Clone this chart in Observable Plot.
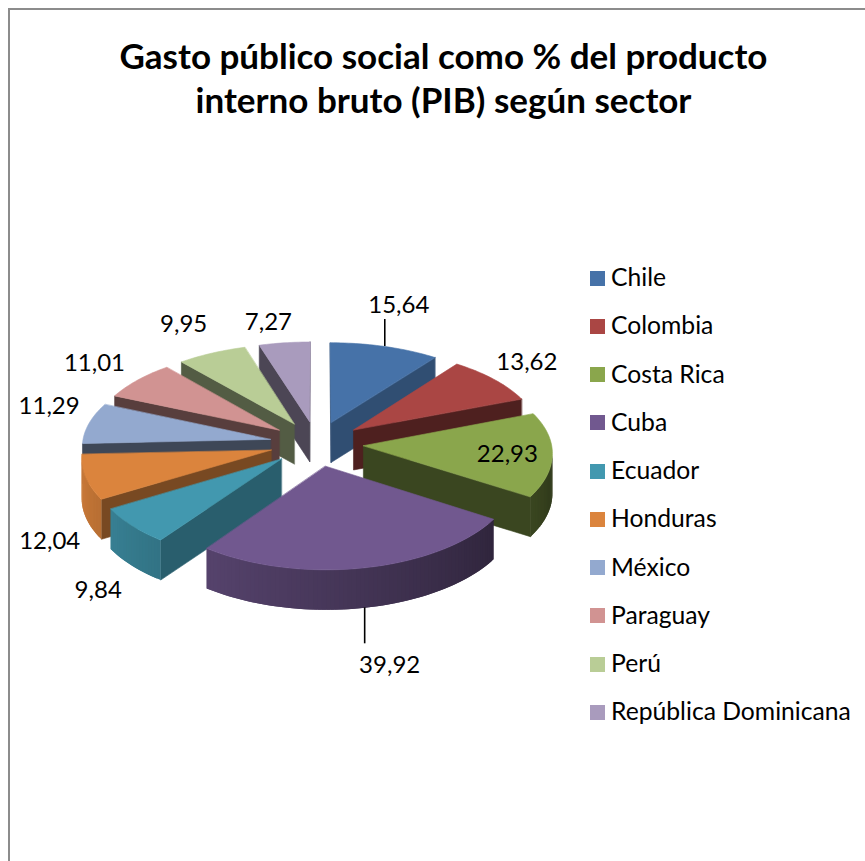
<!DOCTYPE html>
<html lang="es">
<head>
<meta charset="utf-8">
<script src="https://cdn.jsdelivr.net/npm/d3@7"></script>
<script src="https://cdn.jsdelivr.net/npm/@observablehq/plot@0.6"></script>
<style>
  html, body { margin: 0; padding: 0; background: #fff; }
  #page { position: relative; width: 865px; height: 861px; overflow: hidden; font-family: Lato, sans-serif; color: #000; }
  #frame { position: absolute; left: 8px; top: 8px; right: 0; bottom: 0; border-left: 2px solid #8c8c8c; border-top: 2px solid #8c8c8c; }
  #chart { position: absolute; left: 0; top: 0; }
  #chart svg { display: block; background: transparent; }
  #title { position: absolute; left: 21px; width: 845px; top: 33px; margin: 0; text-align: center; font-weight: 700; font-size: 35px; line-height: 44px; }
  .entry { position: absolute; left: 590px; height: 15px; display: flex; align-items: center; white-space: nowrap; font-size: 24.7px; }
  .entry i { display: block; width: 15px; height: 15px; margin-right: 6px; }
  .entry span { position: relative; top: -1.5px; }
</style>
</head>
<body>
<div id="page">
  <div id="frame"></div>
  <div id="chart"></div>
  <h1 id="title">Gasto público social como % del producto<br>interno bruto (PIB) según sector</h1>
  <div id="legend"></div>
</div>
<script>
// Public social spending by country, clockwise from twelve o'clock.
const countries = ["Chile", "Colombia", "Costa Rica", "Cuba", "Ecuador", "Honduras", "México", "Paraguay", "Perú", "República Dominicana"];
const values = [15.64, 13.62, 22.93, 39.92, 9.84, 12.04, 11.29, 11.01, 9.95, 7.27];
const colors = ["#4672a8", "#aa4644", "#8aa64c", "#71588f", "#4298af", "#db843d", "#93a9cf", "#d19392", "#b9cd96", "#a99bbd"];

// Shading of each slice's straight side wall.
const sideShade = [0.68, 0.46, 0.42, 0.42, 0.62, 0.55, 0.42, 0.42, 0.45, 0.45];
// Back-to-front painting order of the exploded slices.
const paintOrder = [0, 1, 2, 9, 8, 7, 6, 5, 4, 3];
// Label offsets in pixels from the middle of each slice's rim.
const labelNudge = [[14, -41], [33, -17], [-45, 0], [25, 98], [-34, 65], [-36, 64], [-40, -17], [-43, -17], [-28, -29], [-16, -21]];

// Tilted-disc projection parameters, in units of the pie's radius.
const explode = 0.25, perspectiveY = 0.088, perspectiveX = 0.07;
const pxPerX = 188, pxPerY = 90.3, originX = 316, originY = 443;
const depth = 40 / pxPerY;
const W = 865, H = 861;

const total = d3.sum(values);
const rad = (deg) => (deg * Math.PI) / 180;
const slices = [];
let running = 0;
values.forEach((v, i) => {
  const start = (running / total) * 360;
  running += v;
  slices.push({ i, start, end: (running / total) * 360, mid: (start + (running / total) * 360) / 2 });
});

// Project a point given in polar form on the pie, pushed out along the slice's own axis.
function project(slice, theta, radius) {
  const X = explode * Math.sin(rad(slice.mid)) + radius * Math.sin(rad(theta));
  const Y = explode * Math.cos(rad(slice.mid)) + radius * Math.cos(rad(theta));
  return { x: X / (1 + perspectiveX * Y), y: Y / (1 + perspectiveY * Y) };
}

const shade = (hex, f) => {
  const c = d3.rgb(hex);
  return d3.rgb(c.r * f, c.g * f, c.b * f).formatHex();
};
// Rim walls get darker towards the right of the pie.
const rimShade = (theta) => 0.42 + ((Math.max(theta, 100) - 122) / 148) * 0.53;

const rows = [];
let polyId = 0;
function addPolygon(points, fill, edge) {
  const id = polyId++;
  for (const p of points) rows.push({ id, x: p.x, y: p.y, fill, edge });
}
const drop = (p) => ({ x: p.x, y: p.y - depth });

for (const k of paintOrder) {
  const slice = slices[k];
  const apex = project(slice, slice.mid, 0);
  const rim = d3.range(slice.start, slice.end, 1.2).concat(slice.end).map((t) => ({ t, ...project(slice, t, 1) }));
  const base = colors[k];
  const side = shade(base, sideShade[k]);

  // A wall is visible when the clockwise outline runs leftward along it.
  const first = rim[0], last = rim[rim.length - 1];
  if (first.x < apex.x) addPolygon([apex, first, drop(first), drop(apex)], side, side);
  if (apex.x < last.x) addPolygon([last, apex, drop(apex), drop(last)], side, side);
  // Each rim strip runs on under the next one so that no seam shows between them.
  for (let j = 0; j + 1 < rim.length; j++) {
    const a = rim[j], b = rim[Math.min(j + 2, rim.length - 1)];
    if (rim[j + 1].x < a.x) addPolygon([a, b, drop(b), drop(a)], shade(base, Math.min(1, rimShade(a.t + 0.6))), "none");
  }
  addPolygon([apex, ...rim], base, base);
}

// One row per slice for its value label, anchored on the middle of the rim.
const labels = slices.map((s) => ({ ...project(s, s.mid, 1), text: values[s.i].toFixed(2).replace(".", ","), nudge: labelNudge[s.i] }));

const leader = (i, y1, y2) => ({ x: labels[i].x, y1: labels[i].y + y1, y2: labels[i].y + y2 });
const leaders = [leader(0, 0, 27 / pxPerY), leader(3, -depth, -depth - 36 / pxPerY)];

const chart = Plot.plot({
  width: W,
  height: H,
  margin: 0,
  style: { background: "transparent", overflow: "visible" },
  x: { domain: [-originX / pxPerX, (W - originX) / pxPerX], range: [0, W], axis: null },
  y: { domain: [(originY - H) / pxPerY, originY / pxPerY], range: [H, 0], axis: null },
  color: { type: "identity" },
  marks: [
    Plot.line(rows, { x: "x", y: "y", z: "id", fill: "fill", stroke: "edge", strokeWidth: 0.6, curve: "linear-closed" }),
    Plot.ruleX(leaders, { x: "x", y1: "y1", y2: "y2", stroke: "#000", strokeWidth: 1.6 }),
    ...labels.map((d) => Plot.text([d], {
      x: "x", y: "y", text: "text", dx: d.nudge[0], dy: d.nudge[1],
      fontSize: 24, fontFamily: "Lato, sans-serif", fill: "#000"
    }))
  ]
});
document.getElementById("chart").append(chart);

// Legend column, one evenly spaced swatch per country.
const legend = document.getElementById("legend");
countries.forEach((name, i) => {
  const row = document.createElement("div");
  row.className = "entry";
  row.style.top = 270.5 + i * 48.25 + "px";
  const swatch = document.createElement("i");
  swatch.style.background = colors[i];
  const text = document.createElement("span");
  text.textContent = name;
  row.append(swatch, text);
  legend.append(row);
});
</script>
</body>
</html>
